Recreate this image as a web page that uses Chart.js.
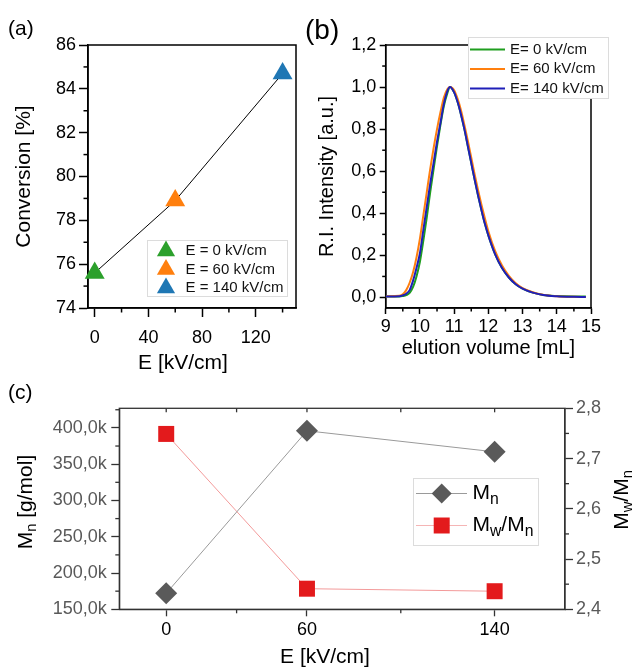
<!DOCTYPE html>
<html>
<head>
<meta charset="utf-8">
<script src="https://cdn.jsdelivr.net/npm/chart.js@4.4.0/dist/chart.umd.min.js"></script>
<style>
  body { margin: 0; background: #fff; }
  #wrap { position: relative; width: 634px; height: 668px; }
  canvas { position: absolute; }
</style>
</head>
<body>
<div id="wrap">
  <canvas id="chartA" width="300" height="380" style="left:0;top:0"></canvas>
  <canvas id="chartB" width="334" height="380" style="left:300px;top:0"></canvas>
  <canvas id="chartC" width="634" height="288" style="left:0;top:380px"></canvas>
</div>
<script>
// (a) conversion vs field
const fieldA = [0, 60, 140];
const conversion = [75.6, 78.9, 84.7];
const labelsA = ['E = 0 kV/cm', 'E = 60 kV/cm', 'E = 140 kV/cm'];
const colorsA = ['#2ca02c', '#ff7f0e', '#1f77b4'];
const ticksAx = [0, 40, 80, 120];
const minorAx = [20, 60, 100, 140];
const ticksAy = [74, 76, 78, 80, 82, 84, 86];
const minorAy = [75, 77, 79, 81, 83, 85];

// (b) GPC traces
const elution = [9.0, 9.4, 9.5, 9.6, 9.7, 9.8, 9.9, 10.0, 10.1, 10.2, 10.3, 10.4, 10.5, 10.6, 10.7, 10.8, 10.88,
  11.0, 11.1, 11.2, 11.3, 11.4, 11.5, 11.6, 11.7, 11.8, 11.9, 12.0, 12.2, 12.4, 12.6, 12.8, 13.0, 13.3, 13.6, 14.0, 14.5, 14.85];
const ri0 = [0.005, 0.005, 0.007, 0.011, 0.022, 0.05, 0.10, 0.17, 0.27, 0.38, 0.50, 0.61, 0.72, 0.82, 0.91, 0.97, 1.0,
  0.975, 0.93, 0.87, 0.80, 0.72, 0.64, 0.56, 0.485, 0.415, 0.35, 0.295, 0.205, 0.14, 0.095, 0.063, 0.042, 0.023, 0.012, 0.007, 0.005, 0.005];
const ri60 = [0.005, 0.008, 0.015, 0.035, 0.07, 0.12, 0.19, 0.28, 0.39, 0.50, 0.61, 0.71, 0.80, 0.88, 0.95, 0.99, 1.0,
  0.985, 0.945, 0.89, 0.82, 0.745, 0.665, 0.585, 0.51, 0.44, 0.375, 0.315, 0.22, 0.152, 0.103, 0.068, 0.045, 0.025, 0.013, 0.006, 0.003, 0.002];
const ri140 = [0.005, 0.006, 0.01, 0.018, 0.035, 0.08, 0.14, 0.21, 0.32, 0.43, 0.54, 0.64, 0.74, 0.83, 0.92, 0.98, 1.0,
  0.975, 0.93, 0.87, 0.80, 0.72, 0.64, 0.56, 0.485, 0.415, 0.35, 0.295, 0.205, 0.14, 0.095, 0.063, 0.042, 0.023, 0.012, 0.006, 0.003, 0.002];
const labelsB = ['E= 0 kV/cm', 'E= 60 kV/cm', 'E= 140 kV/cm'];
const colorsB = ['#1f9e1f', '#ff7f0e', '#1f1fb8'];
const ticksBx = [9, 10, 11, 12, 13, 14, 15];
const minorBx = [9.5, 10.5, 11.5, 12.5, 13.5, 14.5];
const ticksBy = [0, 0.2, 0.4, 0.6, 0.8, 1.0, 1.2];
const minorBy = [0.1, 0.3, 0.5, 0.7, 0.9, 1.1];

// (c) molar mass and dispersity
const fieldC = [0, 60, 140];
const mn = [172000, 396000, 367000];
const dispersity = [2.749, 2.441, 2.436];
const ticksCx = [0, 60, 140];
const minorCx = [30, 100];
const ticksCy = [150000, 200000, 250000, 300000, 350000, 400000];
const minorCy = [175000, 225000, 275000, 325000, 375000, 425000];
const ticksCy2 = [2.4, 2.5, 2.6, 2.7, 2.8];
const minorCy2 = [2.45, 2.55, 2.65, 2.75];

const FONT = "'Liberation Sans', Arial, sans-serif";
Chart.defaults.font.family = FONT;
Chart.defaults.color = '#000';

const comma = d => v => v.toFixed(d).replace('.', ',');

function axis(o) {
  const lc = o.lineColor || '#000';
  const lw = o.lineWidth || 1.5;
  return {
    type: 'linear',
    position: o.position,
    min: o.min,
    max: o.max,
    afterBuildTicks: s => { s.ticks = o.ticks.map(v => ({ value: v })); },
    afterFit: s => { if (s.isHorizontal()) s.height = o.size; else s.width = o.size; },
    border: { display: true, color: lc, width: lw },
    grid: { drawOnChartArea: false, drawTicks: true, tickLength: o.tickLen, tickWidth: lw, tickColor: lc },
    ticks: { padding: o.pad, color: o.labelColor || '#000', font: { size: o.fontSize }, callback: o.fmt,
      maxRotation: 0, autoSkip: false },
    title: { display: !!o.title, text: o.title, color: '#000',
      font: { size: o.titleSize || 21, lineHeight: 1.2 }, padding: o.titlePad || 0 }
  };
}

function richWidth(ctx, parts, size, ratio) {
  let w = 0;
  parts.forEach(p => { ctx.font = (p.sub ? size * ratio : size) + 'px ' + FONT; w += ctx.measureText(p.t).width; });
  return w;
}
function drawRich(ctx, parts, x, y, size, center, ratio) {
  let cx = center ? x - richWidth(ctx, parts, size, ratio) / 2 : x;
  ctx.textBaseline = 'middle';
  ctx.textAlign = 'left';
  parts.forEach(p => {
    const s = p.sub ? size * ratio : size;
    ctx.font = s + 'px ' + FONT;
    ctx.fillText(p.t, cx, p.sub ? y + size * 0.3 : y);
    cx += ctx.measureText(p.t).width;
  });
}

function plainText(ctx, t, x, y, size) {
  ctx.fillStyle = '#000';
  ctx.font = size + 'px ' + FONT;
  ctx.textBaseline = 'middle';
  ctx.textAlign = 'center';
  ctx.fillText(t, x, y);
  ctx.textAlign = 'left';
}

// frame + minor ticks, drawn under the data
function framePlugin(cfg) {
  return {
    id: 'frame',
    beforeDatasetsDraw(chart) {
      const { ctx, chartArea: a } = chart;
      ctx.save();
      ctx.strokeStyle = cfg.color;
      ctx.lineWidth = cfg.width;
      ctx.strokeRect(a.left, a.top, a.right - a.left, a.bottom - a.top);
      cfg.minor.forEach(m => {
        const s = chart.scales[m.axis];
        m.values.forEach(v => {
          const p = s.getPixelForValue(v);
          ctx.beginPath();
          if (m.side === 'bottom') { ctx.moveTo(p, a.bottom); ctx.lineTo(p, a.bottom + m.len); }
          else if (m.side === 'top') { ctx.moveTo(p, a.top); ctx.lineTo(p, a.top + m.len); }
          else if (m.side === 'left') { ctx.moveTo(a.left, p); ctx.lineTo(a.left - m.len, p); }
          else { ctx.moveTo(a.right, p); ctx.lineTo(a.right + m.len, p); }
          ctx.stroke();
        });
      });
      ctx.restore();
    },
    afterDraw(chart) {
      const ctx = chart.ctx;
      ctx.save();
      ctx.fillStyle = '#000';
      ctx.font = cfg.tagSize + 'px ' + FONT;
      ctx.textBaseline = 'middle';
      ctx.textAlign = 'left';
      ctx.fillText(cfg.tag, cfg.tagX, cfg.tagY);
      if (cfg.extra) cfg.extra(chart, ctx);
      ctx.restore();
    }
  };
}

function legendBox(ctx, x, y, w, h) {
  ctx.fillStyle = '#fff';
  ctx.fillRect(x, y, w, h);
  ctx.strokeStyle = '#dcdcdc';
  ctx.lineWidth = 1;
  ctx.strokeRect(x + 0.5, y + 0.5, w, h);
}

// ---------- (a) ----------
new Chart(document.getElementById('chartA'), {
  type: 'line',
  data: {
    datasets: [{
      data: fieldA.map((x, i) => ({ x: x, y: conversion[i] })),
      borderColor: '#000',
      borderWidth: 1,
      pointStyle: 'triangle',
      pointRadius: 11.5,
      pointBorderWidth: 0,
      pointBackgroundColor: colorsA,
      clip: false
    }]
  },
  options: {
    responsive: false,
    animation: false,
    events: [],
    layout: { autoPadding: false, padding: { left: 0, top: 45, right: 4, bottom: 0 } },
    plugins: { legend: { display: false }, tooltip: { enabled: false } },
    scales: {
      x: axis({ position: 'bottom', min: -5, max: 150, ticks: ticksAx, size: 72, tickLen: 9, pad: 10, fontSize: 18,
        fmt: v => String(v) }),
      y: axis({ position: 'left', min: 74, max: 86, ticks: ticksAy, size: 88, tickLen: 9, pad: 3, fontSize: 18,
        fmt: v => String(v), title: 'Conversion [%]', titlePad: { top: 12 } })
    }
  },
  plugins: [framePlugin({
    color: '#000', width: 1.5, tag: '(a)', tagSize: 21, tagX: 8, tagY: 29,
    minor: [
      { axis: 'x', values: minorAx, side: 'bottom', len: 4.5 },
      { axis: 'y', values: minorAy, side: 'left', len: 4.5 }
    ],
    extra: (chart, ctx) => {
      plainText(ctx, 'E [kV/cm]', 183, 363, 21);
      legendBox(ctx, 147, 240, 140, 56);
      labelsA.forEach((t, i) => {
        const y = 251 + i * 18.5;
        ctx.fillStyle = colorsA[i];
        Chart.helpers.drawPoint(ctx, { pointStyle: 'triangle', radius: 10.5, rotation: 0, borderWidth: 0 }, 166, y);
        ctx.fillStyle = '#111';
        ctx.font = '15px ' + FONT;
        ctx.textBaseline = 'middle';
        ctx.fillText(t, 185.5, y);
      });
    }
  })]
});

// ---------- (b) ----------
const seriesB = [ri0, ri60, ri140];
new Chart(document.getElementById('chartB'), {
  type: 'line',
  data: {
    datasets: seriesB.map((s, i) => ({
      label: labelsB[i],
      data: elution.map((x, j) => ({ x: x, y: s[j] })),
      borderColor: colorsB[i],
      borderWidth: 2,
      pointRadius: 0,
      cubicInterpolationMode: 'monotone',
      order: 2 - i
    }))
  },
  options: {
    responsive: false,
    animation: false,
    events: [],
    layout: { autoPadding: false, padding: { left: 0, top: 45, right: 43, bottom: 0 } },
    plugins: { legend: { display: false }, tooltip: { enabled: false } },
    scales: {
      x: axis({ position: 'bottom', min: 9, max: 15, ticks: ticksBx, size: 72, tickLen: 6, pad: 2, fontSize: 18,
        fmt: v => String(v), title: 'elution volume [mL]', titleSize: 20, titlePad: { bottom: 20 } }),
      y: axis({ position: 'left', min: -0.05, max: 1.2, ticks: ticksBy, size: 85.7, tickLen: 6, pad: 3.5, fontSize: 18,
        fmt: comma(1), title: 'R.I. Intensity [a.u.]', titleSize: 20, titlePad: { top: 15 } })
    }
  },
  plugins: [framePlugin({
    color: '#000', width: 1.5, tag: '(b)', tagSize: 28, tagX: 5, tagY: 31,
    minor: [
      { axis: 'x', values: minorBx, side: 'bottom', len: 3.5 },
      { axis: 'y', values: minorBy, side: 'left', len: 3.5 }
    ],
    extra: (chart, ctx) => {
      legendBox(ctx, 168, 37, 140, 61);
      labelsB.forEach((t, i) => {
        const y = 49.5 + i * 19.5;
        ctx.strokeStyle = colorsB[i];
        ctx.lineWidth = 2;
        ctx.beginPath();
        ctx.moveTo(170, y);
        ctx.lineTo(205, y);
        ctx.stroke();
        ctx.fillStyle = '#111';
        ctx.font = '15px ' + FONT;
        ctx.textBaseline = 'middle';
        ctx.fillText(t, 210, y);
      });
    }
  })]
});

// ---------- (c) ----------
const mnParts = [{ t: 'M' }, { t: 'n', sub: true }];
const pdiParts = [{ t: 'M' }, { t: 'w', sub: true }, { t: '/M' }, { t: 'n', sub: true }];
new Chart(document.getElementById('chartC'), {
  type: 'line',
  data: {
    datasets: [{
      data: fieldC.map((x, i) => ({ x: x, y: mn[i] })),
      yAxisID: 'y',
      borderColor: '#9a9a9a',
      borderWidth: 1,
      pointStyle: 'rectRot',
      pointRadius: 11,
      pointBorderWidth: 0,
      pointBackgroundColor: '#5a5a5a',
      clip: false
    }, {
      data: fieldC.map((x, i) => ({ x: x, y: dispersity[i] })),
      yAxisID: 'y2',
      borderColor: '#f39a9a',
      borderWidth: 1,
      pointStyle: 'rect',
      pointRadius: 11.3,
      pointBorderWidth: 0,
      pointBackgroundColor: '#e31a1c',
      clip: false
    }]
  },
  options: {
    responsive: false,
    animation: false,
    events: [],
    layout: { autoPadding: false, padding: { left: 0, top: 28.3, right: 0, bottom: 0 } },
    plugins: { legend: { display: false }, tooltip: { enabled: false } },
    scales: {
      x: axis({ position: 'bottom', min: -20, max: 170, ticks: ticksCx, size: 58.7, tickLen: 7, pad: 3, fontSize: 18,
        lineColor: '#333', lineWidth: 1.3, fmt: v => String(v) }),
      y: axis({ position: 'left', min: 150000, max: 427000, ticks: ticksCy, size: 119.3, tickLen: 8, pad: 4.5,
        fontSize: 18, lineColor: '#333', lineWidth: 1.3, labelColor: '#595959',
        fmt: v => (v / 1000).toFixed(1).replace('.', ',') + 'k' }),
      y2: axis({ position: 'right', min: 2.4, max: 2.8, ticks: ticksCy2, size: 69, tickLen: 8, pad: 3,
        fontSize: 18, lineColor: '#333', lineWidth: 1.3, labelColor: '#595959', fmt: comma(1) })
    }
  },
  plugins: [framePlugin({
    color: '#333', width: 1.3, tag: '(c)', tagSize: 21, tagX: 8, tagY: 13,
    minor: [
      { axis: 'x', values: minorCx, side: 'bottom', len: 4 },
      { axis: 'x', values: minorCx.concat(ticksCx), side: 'top', len: 4 },
      { axis: 'y', values: minorCy, side: 'left', len: 4 },
      { axis: 'y2', values: minorCy2, side: 'right', len: 4 }
    ],
    extra: (chart, ctx) => {
      plainText(ctx, 'E [kV/cm]', 325, 277, 21);
      // axis titles with subscripts
      ctx.fillStyle = '#000';
      ctx.save();
      ctx.translate(26, 122);
      ctx.rotate(-Math.PI / 2);
      drawRich(ctx, mnParts.concat([{ t: ' [g/mol]' }]), 0, 0, 21, true, 0.7);
      ctx.restore();
      ctx.save();
      ctx.translate(622, 120);
      ctx.rotate(-Math.PI / 2);
      drawRich(ctx, pdiParts, 0, 0, 21, true, 0.7);
      ctx.restore();
      // legend
      legendBox(ctx, 413, 98, 125, 67);
      const rows = [
        { y: 113.5, line: '#9a9a9a', fill: '#5a5a5a', style: 'rectRot', r: 10, parts: mnParts },
        { y: 145.5, line: '#f5b5b5', fill: '#e31a1c', style: 'rect', r: 11.3, parts: pdiParts }
      ];
      rows.forEach(row => {
        ctx.strokeStyle = row.line;
        ctx.lineWidth = 1;
        ctx.beginPath();
        ctx.moveTo(416, row.y);
        ctx.lineTo(467, row.y);
        ctx.stroke();
        ctx.fillStyle = row.fill;
        Chart.helpers.drawPoint(ctx, { pointStyle: row.style, radius: row.r, rotation: 0, borderWidth: 0 }, 441.7, row.y);
        ctx.fillStyle = '#000';
        drawRich(ctx, row.parts, 472.5, row.y, 21, false, 0.75);
      });
    }
  })]
});
</script>
</body>
</html>
